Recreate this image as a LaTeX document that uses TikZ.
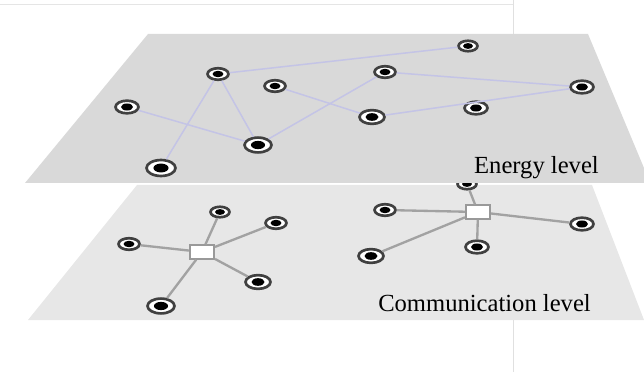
\documentclass[tikz,border=0pt]{standalone}
\usepackage{fontspec}
\setmainfont{Liberation Serif}
\usetikzlibrary{shapes.geometric,positioning}
\definecolor{planetop}{RGB}{217,217,217}
\definecolor{planebot}{RGB}{231,231,231}
\definecolor{linkblue}{RGB}{196,196,230}
\definecolor{linkgray}{RGB}{162,162,162}

\begin{document}
\begin{tikzpicture}[x=0.03cm, y=-0.03cm,
    sensor/.style={ellipse, draw=black!75, line width=0.08cm, fill=white, inner sep=0pt,
      minimum width=#1*0.03cm, minimum height=#1*0.0165cm,
      path picture={\fill[black] (path picture bounding box.center) ellipse ({#1*0.0078cm} and {#1*0.0046cm});}},
    hub/.style={rectangle, draw=black!40, line width=0.06cm, fill=white, inner sep=0pt,
      minimum width=0.72cm, minimum height=0.4cm},
    energy/.style={draw=linkblue, line width=0.045cm},
    comm/.style={draw=linkgray, line width=0.07cm},
    levelname/.style={font=\fontsize{21}{24}\selectfont, inner sep=0pt, anchor=base east}]

  \useasboundingbox (0,0) rectangle (644,372);

  % page frame
  \draw[black!10, line width=0.02cm] (0,4) -- (513,4);
  \draw[black!12, line width=0.02cm] (513,0) -- (513,34);
  \draw[black!12, line width=0.02cm] (513,320) -- (513,372);

  % Communication level
  \fill[planebot] (137,185) -- (592,185) -- (644,320) -- (28,320) -- cycle;

  \node[hub] (hubl) at (202,252) {};
  \node[sensor=19] (c1) at (220,212) {};
  \node[sensor=21] (c2) at (276,223) {};
  \node[sensor=21] (c3) at (129,244) {};
  \node[sensor=25] (c4) at (258,282) {};
  \node[sensor=27] (c5) at (161,306) {};

  \node[hub] (hubr) at (478,212) {};
  \node[sensor=19] (c6) at (467,184) {};
  \node[sensor=21] (c7) at (385,210) {};
  \node[sensor=25] (c8) at (371,256) {};
  \node[sensor=23] (c9) at (477,247) {};
  \node[sensor=23] (c10) at (582,224) {};

  \draw[comm] (hubl) -- (c1);
  \draw[comm] (hubl) -- (c2);
  \draw[comm] (hubl) -- (c3);
  \draw[comm] (hubl) -- (c4);
  \draw[comm] (hubl) -- (c5);

  \draw[comm] (hubr) -- (c6);
  \draw[comm] (hubr) -- (c7);
  \draw[comm] (hubr) -- (c8);
  \draw[comm] (hubr) -- (c9);
  \draw[comm] (hubr) -- (c10);

  \node[levelname] (commname) at (591,311) {Communication level};

  % Energy level
  \fill[planetop] (148,34) -- (588,34) -- (644,168) -- (644,183) -- (25,183) -- cycle;

  \node[sensor=19] (e1) at (468,46) {};
  \node[sensor=21] (e2) at (218,74) {};
  \node[sensor=21] (e3) at (385,72) {};
  \node[sensor=21] (e4) at (275,86) {};
  \node[sensor=23] (e5) at (582,87) {};
  \node[sensor=23] (e6) at (127,107) {};
  \node[sensor=25] (e7) at (372,117) {};
  \node[sensor=23] (e8) at (476,108) {};
  \node[sensor=27] (e9) at (258,145) {};
  \node[sensor=29] (e10) at (161,168) {};

  \draw[energy] (e2) -- (e1);
  \draw[energy] (e2) -- (e10);
  \draw[energy] (e2) -- (e9);
  \draw[energy] (e6) -- (e9);
  \draw[energy] (e9) -- (e3);
  \draw[energy] (e3) -- (e5);
  \draw[energy] (e4) -- (e7);
  \draw[energy] (e7) -- (e5);

  \node[levelname] (energyname) at (599,174) {Energy level};

\end{tikzpicture}
\end{document}
